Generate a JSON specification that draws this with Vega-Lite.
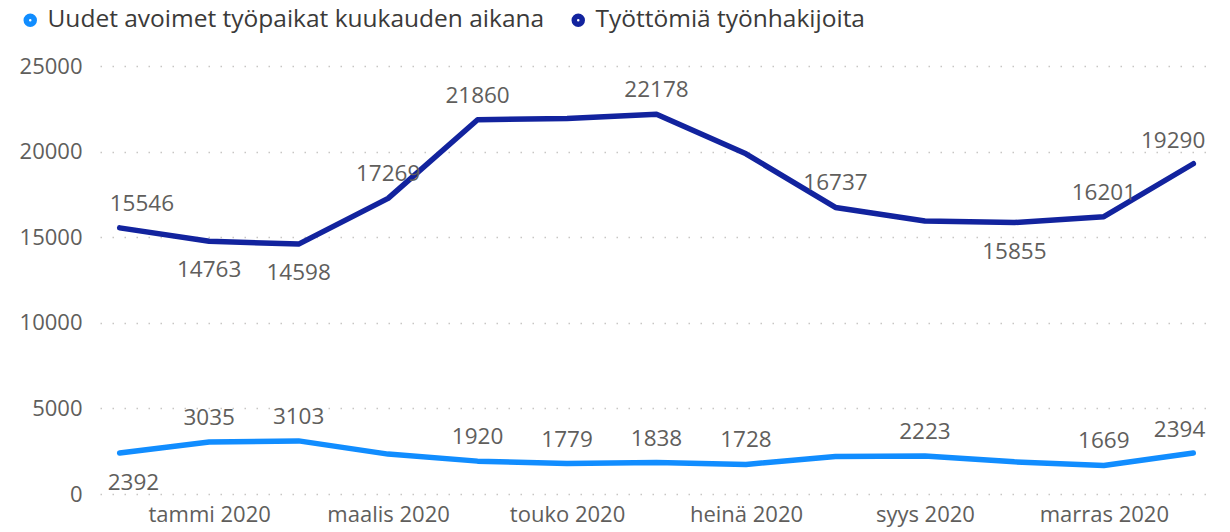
{
  "$schema": "https://vega.github.io/schema/vega-lite/v6.json",
  "width": 1113,
  "height": 428,
  "autosize": "none",
  "padding": {"left": 100, "top": 66, "right": 17, "bottom": 38},
  "background": "white",
  "config": {
    "font": "Open Sans",
    "view": {"stroke": null},
    "axis": {"labelFont": "Open Sans", "labelColor": "#605E5C", "labelFontSize": 22}
  },
  "data": {
    "values": [
      {"month": "joulu 2019", "series": "Työttömiä työnhakijoita", "value": 15546},
      {"month": "tammi 2020", "series": "Työttömiä työnhakijoita", "value": 14763},
      {"month": "helmi 2020", "series": "Työttömiä työnhakijoita", "value": 14598},
      {"month": "maalis 2020", "series": "Työttömiä työnhakijoita", "value": 17269},
      {"month": "huhti 2020", "series": "Työttömiä työnhakijoita", "value": 21860},
      {"month": "touko 2020", "series": "Työttömiä työnhakijoita", "value": 21930},
      {"month": "kesä 2020", "series": "Työttömiä työnhakijoita", "value": 22178},
      {"month": "heinä 2020", "series": "Työttömiä työnhakijoita", "value": 19870},
      {"month": "elo 2020", "series": "Työttömiä työnhakijoita", "value": 16737},
      {"month": "syys 2020", "series": "Työttömiä työnhakijoita", "value": 15950},
      {"month": "loka 2020", "series": "Työttömiä työnhakijoita", "value": 15855},
      {"month": "marras 2020", "series": "Työttömiä työnhakijoita", "value": 16201},
      {"month": "joulu 2020", "series": "Työttömiä työnhakijoita", "value": 19290},
      {"month": "joulu 2019", "series": "Uudet avoimet työpaikat kuukauden aikana", "value": 2392},
      {"month": "tammi 2020", "series": "Uudet avoimet työpaikat kuukauden aikana", "value": 3035},
      {"month": "helmi 2020", "series": "Uudet avoimet työpaikat kuukauden aikana", "value": 3103},
      {"month": "maalis 2020", "series": "Uudet avoimet työpaikat kuukauden aikana", "value": 2330},
      {"month": "huhti 2020", "series": "Uudet avoimet työpaikat kuukauden aikana", "value": 1920},
      {"month": "touko 2020", "series": "Uudet avoimet työpaikat kuukauden aikana", "value": 1779},
      {"month": "kesä 2020", "series": "Uudet avoimet työpaikat kuukauden aikana", "value": 1838},
      {"month": "heinä 2020", "series": "Uudet avoimet työpaikat kuukauden aikana", "value": 1728},
      {"month": "elo 2020", "series": "Uudet avoimet työpaikat kuukauden aikana", "value": 2190},
      {"month": "syys 2020", "series": "Uudet avoimet työpaikat kuukauden aikana", "value": 2223},
      {"month": "loka 2020", "series": "Uudet avoimet työpaikat kuukauden aikana", "value": 1880},
      {"month": "marras 2020", "series": "Uudet avoimet työpaikat kuukauden aikana", "value": 1669},
      {"month": "joulu 2020", "series": "Uudet avoimet työpaikat kuukauden aikana", "value": 2394}
    ]
  },
  "encoding": {
    "x": {
      "field": "month", "type": "ordinal", "sort": null,
      "scale": {"type": "point", "padding": 0.22},
      "axis": {
        "title": null, "domain": false, "ticks": false, "labelAngle": 0,
        "labelPadding": 10,
        "values": ["tammi 2020", "maalis 2020", "touko 2020", "heinä 2020", "syys 2020", "marras 2020"]
      }
    },
    "y": {
      "field": "value", "type": "quantitative",
      "scale": {"domain": [0, 25000], "nice": false},
      "axis": {
        "title": null, "domain": false, "ticks": false, "values": [0, 5000, 10000, 15000, 20000, 25000],
        "format": "d", "labelPadding": 18,
        "grid": true, "gridColor": "#C8C6C4", "gridDash": [1.5, 10.5], "gridWidth": 1.5
      }
    }
  },
  "layer": [
    {
      "mark": {"type": "line", "strokeWidth": 5.5, "strokeJoin": "round", "strokeCap": "round"},
      "encoding": {
        "color": {
          "field": "series", "type": "nominal",
          "scale": {
            "domain": ["Uudet avoimet työpaikat kuukauden aikana", "Työttömiä työnhakijoita"],
            "range": ["#118DFF", "#12239E"]
          },
          "legend": {
            "title": null, "orient": "none", "legendX": -82, "legendY": -58,
            "direction": "horizontal", "symbolType": "circle", "symbolSize": 30,
            "symbolStrokeWidth": 8, "labelFontSize": 24.5, "labelColor": "#3B3A39",
            "labelFont": "Open Sans", "labelOffset": 5, "columnPadding": 14, "padding": 0,
            "labelLimit": 0
          }
        }
      }
    },
    {
      "transform": [{"filter": "(datum.series == 'Työttömiä työnhakijoita' && indexof(['maalis 2020','huhti 2020','kesä 2020','elo 2020','marras 2020'], datum.month) >= 0) || (datum.series != 'Työttömiä työnhakijoita' && indexof(['tammi 2020','helmi 2020','huhti 2020','touko 2020','kesä 2020','heinä 2020','syys 2020','marras 2020'], datum.month) >= 0)"}],
      "mark": {"type": "text", "fontSize": 22.5, "color": "#605E5C", "baseline": "middle", "dy": -24},
      "encoding": {"text": {"field": "value", "type": "quantitative", "format": "d"}}
    },
    {
      "transform": [{"filter": "datum.series == 'Työttömiä työnhakijoita' && indexof(['tammi 2020','helmi 2020','loka 2020'], datum.month) >= 0"}],
      "mark": {"type": "text", "fontSize": 22.5, "color": "#605E5C", "baseline": "middle", "dy": 29},
      "encoding": {"text": {"field": "value", "type": "quantitative", "format": "d"}}
    },
    {
      "transform": [{"filter": "datum.series == 'Työttömiä työnhakijoita' && datum.month == 'joulu 2019'"}],
      "mark": {"type": "text", "fontSize": 22.5, "color": "#605E5C", "baseline": "middle", "align": "left", "dx": -10, "dy": -24},
      "encoding": {"text": {"field": "value", "type": "quantitative", "format": "d"}}
    },
    {
      "transform": [{"filter": "datum.series != 'Työttömiä työnhakijoita' && datum.month == 'joulu 2019'"}],
      "mark": {"type": "text", "fontSize": 22.5, "color": "#605E5C", "baseline": "middle", "align": "left", "dx": -12, "dy": 30},
      "encoding": {"text": {"field": "value", "type": "quantitative", "format": "d"}}
    },
    {
      "transform": [{"filter": "datum.month == 'joulu 2020'"}],
      "mark": {"type": "text", "fontSize": 22.5, "color": "#605E5C", "baseline": "middle", "align": "right", "dx": 12, "dy": -23},
      "encoding": {"text": {"field": "value", "type": "quantitative", "format": "d"}}
    }
  ]
}
